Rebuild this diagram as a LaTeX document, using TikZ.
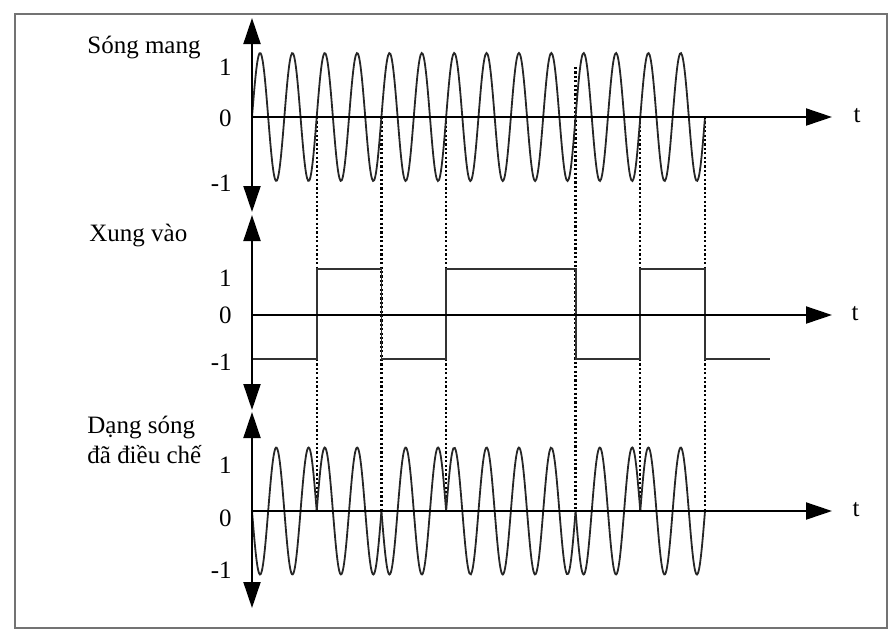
\documentclass[tikz,border=0pt]{standalone}
\usepackage{fontspec}
\setmainfont{Liberation Serif}
\usetikzlibrary{arrows.meta, positioning}
\tikzset{
    textnode/.style  = {draw=none, fill=none, rectangle, inner sep = 0em, 
      font=\fontsize{12.5}{15}\selectfont, align=left},
    levelnode/.style = {textnode, anchor=east},
    framebox/.style = {draw=black!55, line width=1.1pt},
    vaxis/.style = {black, line width=1pt, 
      {Triangle[length=13pt,width=8.5pt]}-{Triangle[length=13pt,width=8.5pt]}},
    haxis/.style = {black, line width=1pt, -{Triangle[length=13pt,width=8.5pt]}},
    wave/.style = {black!85, line width=0.9pt},
    pulse/.style = {black!80, line width=0.9pt},
    guide/.style = {black, line width=1.1pt, dash pattern=on 1.1pt off 1.1pt}
}

\begin{document}
\begin{tikzpicture}[x=0.5pt, y=-0.5pt]
    \useasboundingbox (0,0) rectangle (895,639);
    \draw [framebox] (15,14) rectangle (887,628);

    % zero points of the three panels
    \coordinate (o1) at (252,117);
    \coordinate (o2) at (252,315);
    \coordinate (o3) at (252,511);

    % guide lines at the bit edges
    \foreach \k in {2,4,6,12,14}
        \draw [guide] ({252+32.357*\k},117) -- ({252+32.357*\k},511);
    \draw [guide] ({252+32.357*10},67) -- ({252+32.357*10},511);

    % carrier
    \draw [wave] plot[domain=0:14, samples=420, smooth] 
        ({252+32.357*\x}, {117-64*sin(360*\x)});

    % input pulses
    \draw [pulse] (252,359) -- (316.7,359) -- (316.7,269) -- (381.4,269) -- (381.4,359) 
        -- (446.1,359) -- (446.1,269) -- (575.6,269) -- (575.6,359) -- (640.3,359) 
        -- (640.3,269) -- (705,269) -- (705,359) -- (770,359);

    % modulated wave
    \foreach \a/\b/\s in {0/2/-1, 2/4/1, 4/6/-1, 6/10/1, 10/12/-1, 12/14/1}
        \draw [wave] plot[domain=\a:\b, samples=90, smooth] 
            ({252+32.357*\x}, {511-\s*63.5*sin(360*\x)});

    % axes
    \draw [vaxis] (252,18) -- (252,212); 
    \draw [vaxis] (252,215) -- (252,410); 
    \draw [vaxis] (252,412) -- (252,608); 

    \coordinate (e1) at (832,117);
    \coordinate (e2) at (832,315);
    \coordinate (e3) at (832,511);
    \draw [haxis] (o1) -- (e1); 
    \draw [haxis] (o2) -- (e2); 
    \draw [haxis] (o3) -- (e3); 

    \node [name=t1, textnode] at (857,116) {t}; 
    \node [name=t2, textnode] at (855,314) {t}; 
    \node [name=t3, textnode] at (856,510) {t}; 

    % titles
    \node [name=carrier, textnode, anchor=west] at (87,47) {Sóng mang}; 
    \node [name=input, textnode, anchor=west] at (89,235) {Xung vào}; 
    \node [name=output, textnode, anchor=west] at (87,440) {Dạng sóng\\đã điều chế}; 

    % levels
    \node [name=p1, levelnode] at (232,67) {1}; 
    \node [name=z1, levelnode] at (232,118) {0}; 
    \node [name=m1, levelnode] at (232,183) {-1}; 

    \node [name=p2, levelnode] at (232,278) {1}; 
    \node [name=z2, levelnode] at (232,315) {0}; 
    \node [name=m2, levelnode] at (232,362) {-1}; 

    \node [name=p3, levelnode] at (232,465) {1}; 
    \node [name=z3, levelnode] at (232,518) {0}; 
    \node [name=m3, levelnode] at (232,570) {-1}; 
\end{tikzpicture}
\end{document}
